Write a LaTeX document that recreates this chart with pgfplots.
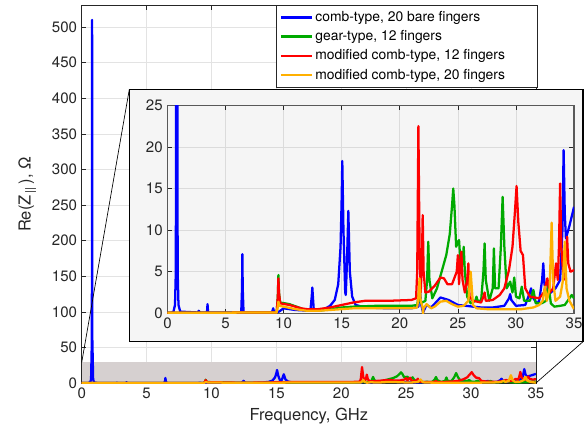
\documentclass[border=0pt]{standalone}
\usepackage{pgfplots}
\pgfplotsset{compat=1.18}
\usepackage{pgfplotstable}
\usepackage{fontspec}
\setmainfont{TeX Gyre Heros}

\definecolor{txt}{RGB}{38,38,38}
\definecolor{cblue}{RGB}{0,0,255}
\definecolor{cgreen}{RGB}{0,170,0}
\definecolor{cred}{RGB}{255,0,0}
\definecolor{corange}{RGB}{255,176,0}
\definecolor{zoomshade}{RGB}{214,208,208}
\definecolor{insetbg}{RGB}{245,245,245}

% comb-type, 20 bare fingers
\pgfplotstableread{
f v
0 0.05
0.5 0.1
0.65 1
0.72 5
0.78 60
0.8 510
0.82 60
0.88 5
0.95 1
1.1 0.2
2.6 0.1
2.7 0.3
2.8 0.1
3.4 0.1
3.45 1.1
3.5 0.1
6.35 0.1
6.42 3
6.45 7.1
6.48 3
6.55 0.1
9.0 0.1
9.1 0.6
9.2 0.1
9.6 0.2
10 0.6
11 0.4
12.3 0.3
12.42 2
12.47 3.1
12.52 2
12.6 0.3
13.5 0.5
14.0 0.9
14.4 1.6
14.7 3.5
14.9 8
15.0 14
15.05 18.3
15.15 10
15.3 2.5
15.35 2.2
15.45 6
15.57 12.3
15.7 5
15.9 2
16.2 1.0
17 0.7
19 0.6
21 0.6
21.6 0.8
21.7 3.5
21.85 1.0
22.0 0.1
22.3 1.0
22.7 0.7
23.5 1.9
24.2 1.6
25.0 1.0
25.7 0.9
26.3 0.8
27 0.7
28 0.7
29 0.9
29.4 1.8
29.5 2.3
29.6 1.6
30 0.9
30.8 1.0
31.2 2.5
31.3 3.0
31.4 2.0
31.8 1.2
32.0 1.5
32.25 4
32.35 6.0
32.45 3.5
32.7 2.0
33.0 2.5
33.4 3
33.8 4
34.0 10
34.1 19.6
34.2 12
34.3 9
34.6 10.5
35 12.8
}\combTwenty

% gear-type, 12 fingers
\pgfplotstableread{
f v
0 0.05
9.4 0.1
9.5 2
9.55 4.6
9.6 2.5
9.7 1.3
10.5 1.1
11.5 0.6
12 0.3
13 0.3
14 0.5
15 0.7
16 0.8
18 0.9
21 0.9
21.5 1.0
21.65 2.5
21.8 1.2
22.2 1.5
22.35 4
22.45 8.6
22.55 4
22.8 1.8
23.2 3
23.6 5
24.0 7
24.3 9.5
24.5 13
24.6 15.0
24.7 13
24.85 8
25.0 8.5
25.1 8.8
25.25 5.5
25.4 6
25.5 8.0
25.6 5
25.8 2
26.1 1.2
26.5 1.5
26.6 2
26.7 1.5
27.0 1.5
27.2 5
27.3 8.4
27.4 4
27.7 1.5
28.0 3
28.1 7.8
28.2 3
28.5 3
28.7 8
28.85 14.0
29.0 8
29.2 3
29.5 3.8
29.7 2.5
29.85 4.3
30.0 2
30.3 1.8
30.5 3.2
30.7 1.5
31.2 1.5
31.5 2.8
31.7 1.2
32.2 1.2
32.6 1.5
32.8 3.5
33.0 1.2
33.3 0.8
33.8 0.9
34.2 1.0
34.5 1.6
34.8 2.2
35 1.8
}\gearTwelve

% modified comb-type, 12 fingers
\pgfplotstableread{
f v
0 0.05
9.4 0.1
9.5 2
9.55 4.2
9.6 2.5
9.7 1.2
10.5 1.0
11.5 0.6
12 0.5
13 0.5
14 0.7
15 1.0
16 1.3
17 1.5
19 1.5
21 1.6
21.4 1.8
21.5 5
21.6 22.5
21.7 8
21.8 2.5
21.9 6
21.97 11.8
22.05 5
22.2 2.5
22.5 2.6
23.0 3.3
23.5 4.3
23.8 4.2
24.1 3.5
24.5 3.5
24.9 5
25.0 7.0
25.1 3.5
25.2 6
25.3 7.4
25.4 4
25.6 2.5
25.8 4
25.9 6.0
26.0 2
26.3 1.5
27.0 1.3
27.2 2
27.3 2.5
27.4 1.5
28 1.6
28.6 2.2
29.0 3
29.4 5.2
29.7 8
29.9 12
30.05 15.3
30.2 11
30.4 7.5
30.6 7.0
30.8 3
31.2 2
32.0 1.8
32.4 2.5
32.7 4.2
32.9 2.5
33.2 3
33.45 6.0
33.6 4
33.7 8
33.8 15.6
33.9 8
34.1 4
34.3 7
34.4 9.2
34.5 6
34.7 5
35 5.2
}\modTwelve

% modified comb-type, 20 fingers
\pgfplotstableread{
f v
0 0.05
9.4 0.1
9.5 0.8
9.55 1.4
9.65 0.9
10 0.8
11 0.5
12 0.3
13 0.3
14 0.4
15 0.5
16 0.6
18 0.6
21 0.6
21.5 0.7
21.6 2
21.7 4.2
21.8 1.5
21.95 0.8
22.0 0.0
22.05 0.6
22.3 1.1
22.7 0.6
23.0 0.8
23.5 1.4
24.0 1.5
24.5 1.1
25.0 0.8
25.5 0.9
25.9 1.5
26.1 5.0
26.3 1.0
26.6 0.6
27.5 0.5
29 0.5
30.5 0.5
31.5 0.7
32.0 1.0
32.3 1.5
32.5 3.2
32.65 1.5
32.9 3
33.07 10.9
33.2 4
33.4 1.5
33.8 2
34.05 4
34.2 8.6
34.35 3
34.6 1.5
35 0.5
}\modTwenty

\pgfplotsset{
  common/.style={
    scale only axis,
    xmin=0, xmax=35, ymin=0,
    xtick={0,5,...,35},
    tick align=inside,
    grid=major,
    axis line style={draw=txt, line width=0.5pt},
    tick style={draw=txt, line width=0.5pt},
    major tick length=3.5pt,
    ticklabel style={font=\fontsize{11.3}{13}\selectfont, text=txt},
    /pgf/number format/assume math mode=true,
    every axis plot/.append style={line width=1.7pt, line join=round},
  },
}

\begin{document}
\begin{tikzpicture}
\path[use as bounding box] (-61.3pt,-36pt) rectangle (377.5pt,287.3pt);

\begin{axis}[
  common,
  width=340.7pt, height=283pt,
  ymax=530,
  ytick={0,50,...,500},
  major grid style={draw=black!11, line width=0.4pt},
  xlabel={Frequency, GHz},
  ylabel={Re(Z\textsubscript{\,||}\,), Ω},
  label style={font=\fontsize{12.4}{14}\selectfont, text=txt},
  ylabel style={yshift=5pt},
  legend style={at={(1.004,1.002)}, anchor=north east, draw=txt,
    line width=0.5pt, font=\fontsize{10.4}{13}\selectfont,
    inner sep=2.5pt, row sep=1.3pt},
  legend cell align=left,
  legend image code/.code={\draw[#1] (0pt,0pt) -- (23pt,0pt);},
]
\fill[zoomshade] (axis cs:0,0) rectangle (axis cs:35,29);
\addplot[cblue] table[x=f, y=v] {\combTwenty};
\addlegendentry{\makebox[162pt][l]{comb-type, 20 bare fingers}}
\addplot[cgreen] table[x=f, y=v] {\gearTwelve};
\addlegendentry{\makebox[162pt][l]{gear-type, 12 fingers}}
\addplot[cred] table[x=f, y=v] {\modTwelve};
\addlegendentry{\makebox[162pt][l]{modified comb-type, 12 fingers}}
\addplot[corange] table[x=f, y=v] {\modTwenty};
\addlegendentry{\makebox[162pt][l]{modified comb-type, 20 fingers}}
\end{axis}

% zoom box and its connectors
\draw[black, line width=0.5pt] (0pt,15.5pt) -- (35.7pt,220.3pt);
\draw[black, line width=0.5pt] (340.7pt,0pt) -- (376.0pt,31.0pt);
\filldraw[fill=insetbg, draw=black, line width=0.8pt] (35.7pt,31.0pt) rectangle (376.0pt,220.3pt);

\begin{axis}[
  common,
  at={(64.3pt,52.3pt)}, anchor=south west,
  width=305pt, height=156pt,
  ymax=25,
  ytick={0,5,...,25},
  axis background/.style={fill=insetbg},
  axis line style={draw=black!65, line width=1pt},
  major grid style={draw=black!14, line width=0.5pt},
]
\addplot[cblue] table[x=f, y=v] {\combTwenty};
\addplot[cgreen] table[x=f, y=v] {\gearTwelve};
\addplot[cred] table[x=f, y=v] {\modTwelve};
\addplot[corange] table[x=f, y=v] {\modTwenty};
\end{axis}
\end{tikzpicture}
\end{document}
